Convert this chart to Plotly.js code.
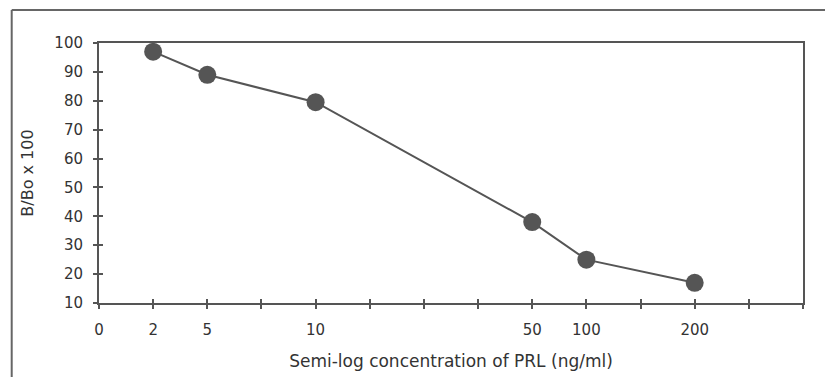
<!DOCTYPE html>
<html>
<head>
<meta charset="utf-8">
<script src="https://cdn.plot.ly/plotly-3.0.1.min.js"></script>
<style>
  html, body { margin: 0; padding: 0; background: #fff; }
  #chart { width: 825px; height: 377px; }
</style>
</head>
<body>
<div id="chart"></div>
<script>
// Concentrations of PRL (ng/ml) and their slot on the semi-log axis
var concentrations = ['2', '5', '10', '50', '100', '200'];
var axisSlots = [1, 2, 4, 8, 9, 11];
var bBo = [97, 89, 79.5, 38, 25, 17];

// Tick labels of the semi-log axis
var tickSlots = [0, 1, 2, 4, 8, 9, 11];
var tickLabels = ['0', '2', '5', '10', '50', '100', '200'];
var allTickSlots = [0, 1, 2, 3, 4, 5, 6, 7, 8, 9, 10, 11, 12, 13];
var xTickText = allTickSlots.map(function (s) {
  var i = tickSlots.indexOf(s);
  return i >= 0 ? tickLabels[i] : '';
});

var yTicks = [10, 20, 30, 40, 50, 60, 70, 80, 90, 100];

var ink = '#555';
var textInk = '#333';
var fontFam = 'DejaVu Sans, Arial, sans-serif';

var trace = {
  x: axisSlots,
  y: bBo,
  text: concentrations,
  mode: 'lines+markers',
  type: 'scatter',
  line: { color: ink, width: 2 },
  marker: { color: ink, size: 18 },
  hovertemplate: '%{text} ng/ml: %{y}<extra></extra>',
  cliponaxis: false
};

var ghost = {
  x: axisSlots,
  y: bBo,
  xaxis: 'x2',
  yaxis: 'y2',
  mode: 'markers',
  type: 'scatter',
  marker: { opacity: 0 },
  hoverinfo: 'skip',
  showlegend: false
};

var layout = {
  width: 825,
  height: 377,
  margin: { l: 99, r: 22, t: 43, b: 74 },
  paper_bgcolor: '#fff',
  plot_bgcolor: '#fff',
  showlegend: false,
  font: { family: fontFam, color: textInk, size: 15 },
  xaxis: {
    range: [0, 13],
    tickmode: 'array',
    tickvals: allTickSlots,
    ticktext: xTickText,
    ticks: 'outside',
    ticklen: 4,
    tickwidth: 2,
    tickcolor: ink,
    ticklabelstandoff: 8,
    showline: true,
    linecolor: ink,
    linewidth: 2,
    mirror: true,
    showgrid: false,
    zeroline: false,
    tickfont: { family: fontFam, size: 15, color: textInk },
    title: {
      text: 'Semi-log concentration of PRL (ng/ml)',
      font: { family: fontFam, size: 17, color: textInk },
      standoff: 17
    }
  },
  yaxis: {
    range: [10, 100],
    tickmode: 'array',
    tickvals: yTicks,
    ticks: 'outside',
    ticklen: 4,
    tickwidth: 2,
    tickcolor: ink,
    ticklabelstandoff: 7,
    showline: true,
    linecolor: ink,
    linewidth: 2,
    mirror: true,
    showgrid: false,
    zeroline: false,
    tickfont: { family: fontFam, size: 15, color: textInk },
    title: {
      text: 'B/Bo x 100',
      font: { family: fontFam, size: 16, color: textInk },
      standoff: 17
    }
  },
  xaxis2: {
    overlaying: 'x',
    range: [0, 13],
    tickmode: 'array',
    tickvals: allTickSlots,
    ticks: 'inside',
    ticklen: 4,
    tickwidth: 2,
    tickcolor: ink,
    showticklabels: false,
    showline: false,
    showgrid: false,
    zeroline: false
  },
  yaxis2: {
    overlaying: 'y',
    range: [10, 100],
    tickmode: 'array',
    tickvals: yTicks,
    ticks: 'inside',
    ticklen: 4,
    tickwidth: 2,
    tickcolor: ink,
    showticklabels: false,
    showline: false,
    showgrid: false,
    zeroline: false
  },
  shapes: [
    { type: 'line', xref: 'paper', yref: 'paper', x0: -0.124, x1: 1.2, y0: 1.127, y1: 1.127,
      line: { color: '#666', width: 2 } },
    { type: 'line', xref: 'paper', yref: 'paper', x0: -0.124, x1: -0.124, y0: 1.127, y1: -0.4,
      line: { color: '#666', width: 2 } }
  ]
};

Plotly.newPlot('chart', [ghost, trace], layout, { staticPlot: true, displayModeBar: false });
</script>
</body>
</html>
